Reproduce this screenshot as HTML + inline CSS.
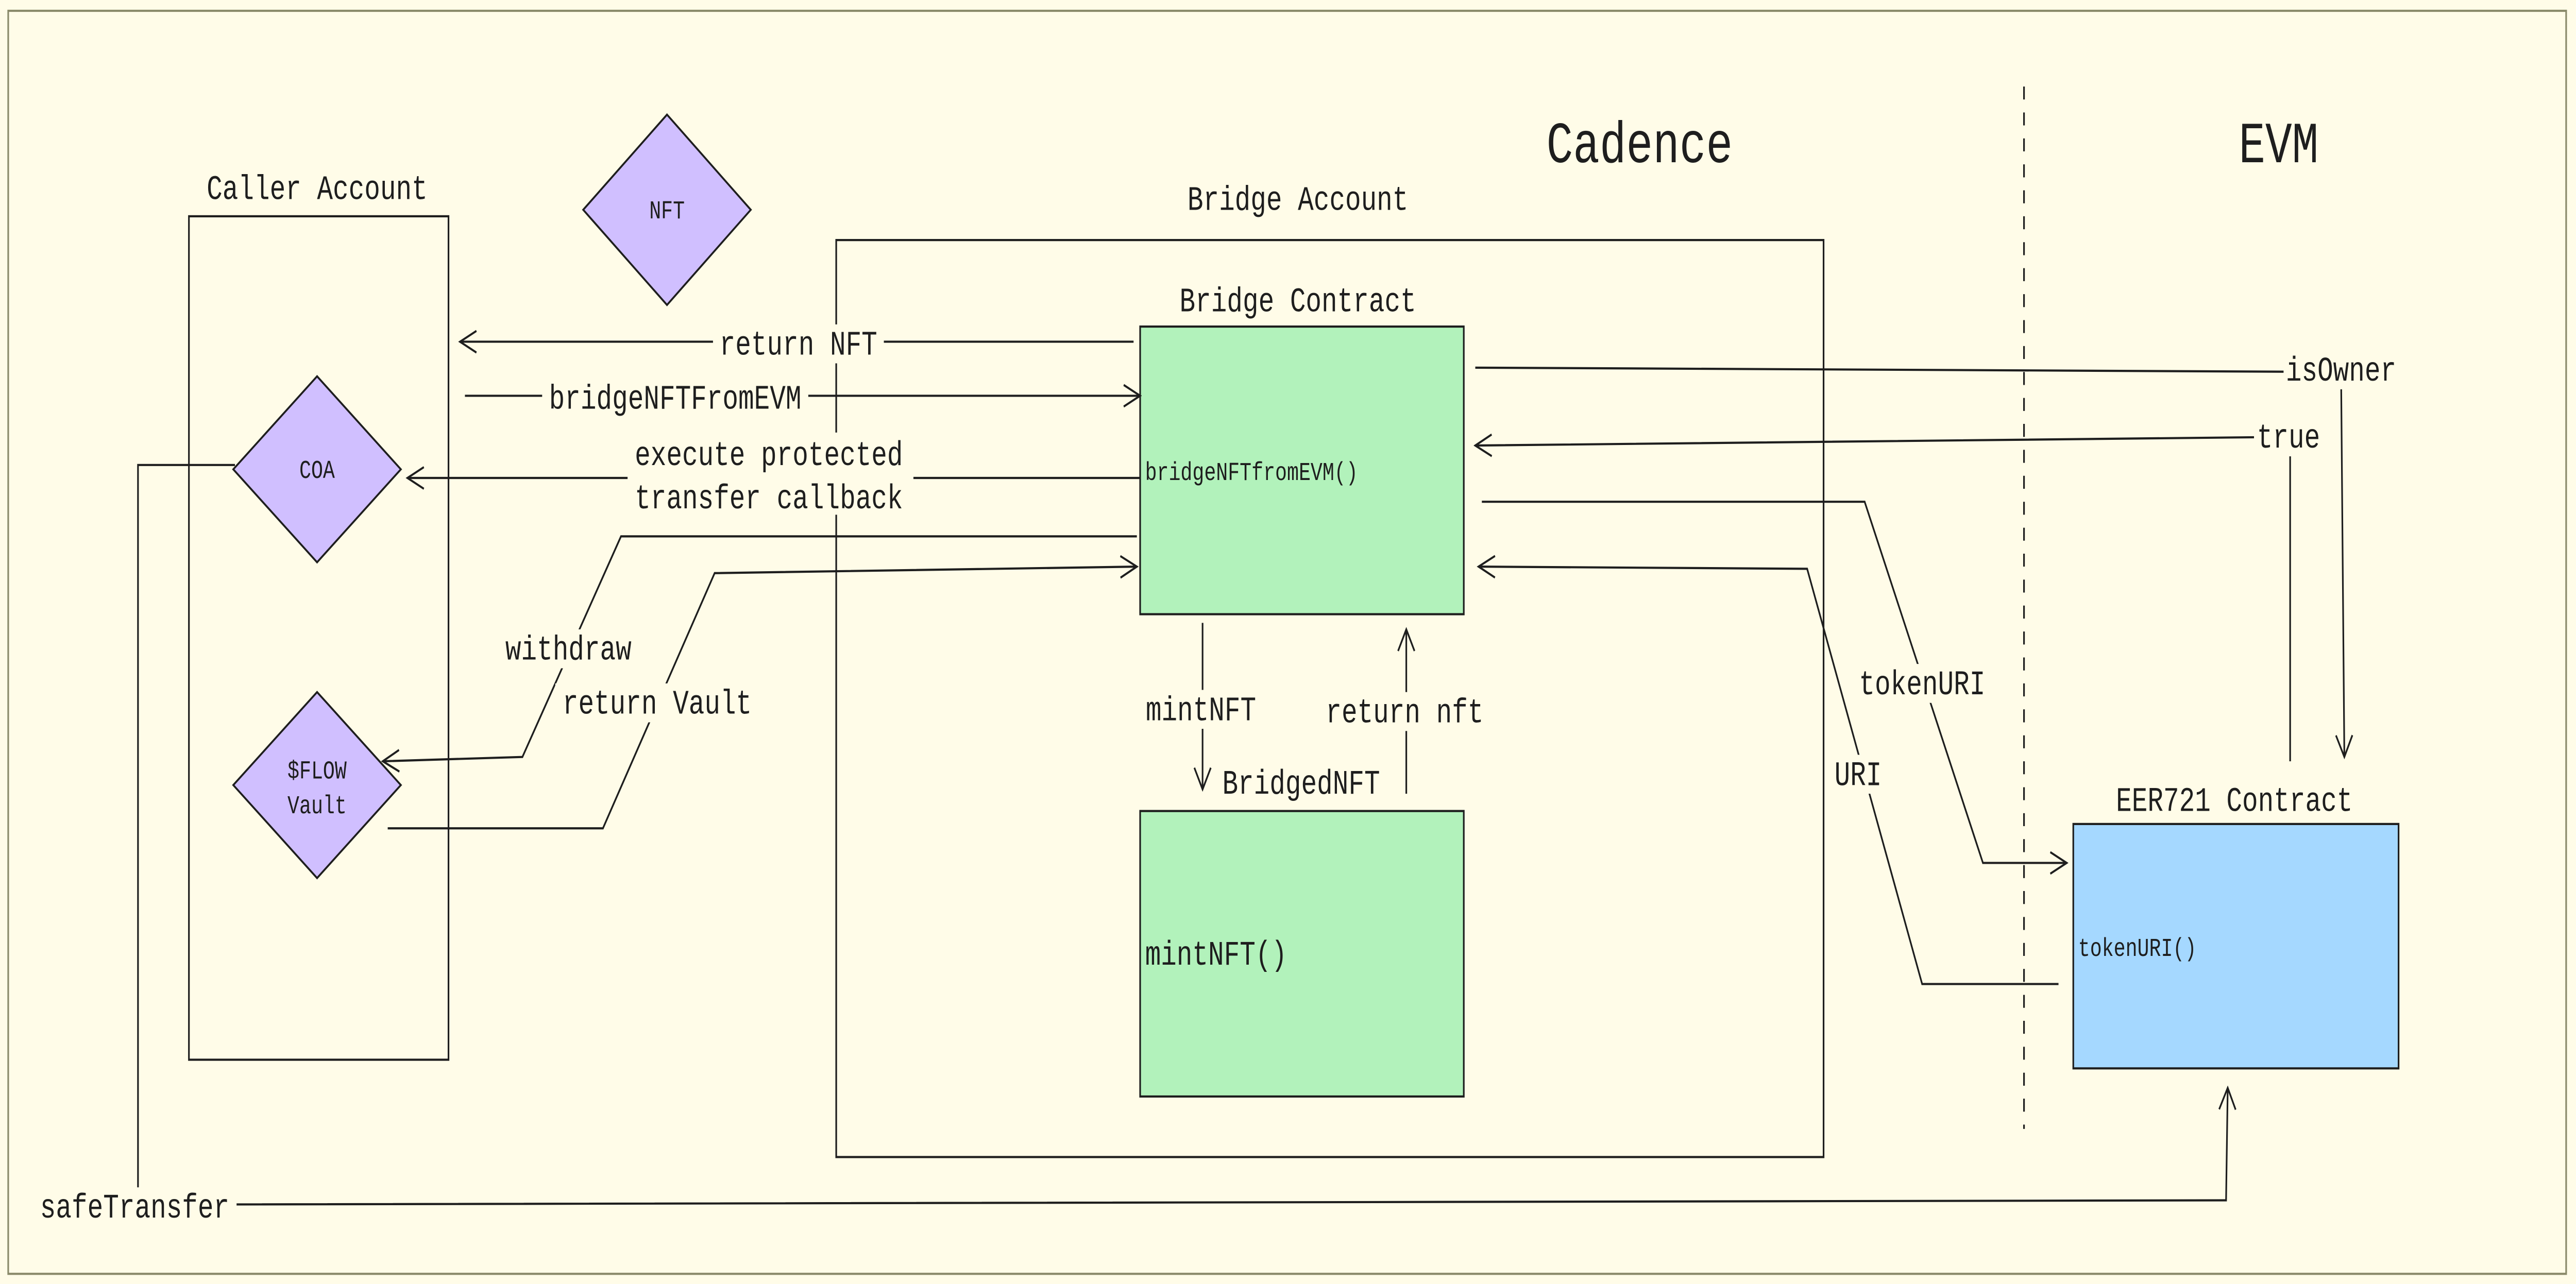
<!DOCTYPE html>
<html><head><meta charset="utf-8"><style>
html,body{margin:0;padding:0;background:#fffce8;overflow:hidden;width:100%;height:100%}
svg{display:block;width:100vw;height:100vh}
text{font-family:"Liberation Mono","DejaVu Sans Mono",monospace;fill:#1e1e1e}
</style></head><body>
<svg viewBox="0 0 1568 593.7" preserveAspectRatio="none" xmlns="http://www.w3.org/2000/svg">
<defs>
<marker id="a" viewBox="0 0 12 12" refX="11" refY="6" markerWidth="12" markerHeight="12" markerUnits="userSpaceOnUse" orient="auto">
<path d="M1,1 L11,6 L1,11" fill="none" stroke="#1e1e1e" stroke-width="1"/>
</marker>
</defs>
<rect x="0" y="0" width="1568" height="594" fill="#fffce8"/>
<rect x="5" y="5" width="1557" height="584" fill="none" stroke="#8a8a6a" stroke-width="1"/>
<text x="998" y="75" font-size="27" text-anchor="middle">Cadence</text>
<text x="1387" y="75" font-size="27" text-anchor="middle">EVM</text>
<line x1="1232" y1="40" x2="1232" y2="522" stroke="#1e1e1e" stroke-width="1" stroke-dasharray="6,6"/>

<g fill="none" stroke="#1e1e1e" stroke-width="1">
<rect x="115" y="100" width="158" height="390"/>
<rect x="509" y="111" width="601" height="424"/>
</g>
<text x="193" y="92" font-size="16" text-anchor="middle">Caller Account</text>
<text x="790" y="97" font-size="16" text-anchor="middle">Bridge Account</text>
<text x="790" y="144" font-size="16" text-anchor="middle">Bridge Contract</text>
<text x="792" y="367" font-size="16" text-anchor="middle">BridgedNFT</text>
<text x="1360" y="375" font-size="16" text-anchor="middle">EER721 Contract</text>

<rect x="694" y="151" width="197" height="133" fill="#b2f2bb" stroke="#1e1e1e"/>
<rect x="694" y="375" width="197" height="132" fill="#b2f2bb" stroke="#1e1e1e"/>
<rect x="1262" y="381" width="198" height="113" fill="#a5d8ff" stroke="#1e1e1e"/>
<text x="697" y="222" font-size="12">bridgeNFTfromEVM()</text>
<text x="697" y="446" font-size="16">mintNFT()</text>
<text x="1265" y="442" font-size="12">tokenURI()</text>

<polygon points="406,53 457,97 406,141 355,97" fill="#d0bfff" stroke="#1e1e1e"/>
<text x="406" y="101" font-size="12" text-anchor="middle">NFT</text>
<polygon points="193,174 244,217 193,260 142,217" fill="#d0bfff" stroke="#1e1e1e"/>
<text x="193" y="221" font-size="12" text-anchor="middle">COA</text>
<polygon points="193,320 244,363 193,406 142,363" fill="#d0bfff" stroke="#1e1e1e"/>
<text x="193" y="360" font-size="12" text-anchor="middle">$FLOW</text>
<text x="193" y="376" font-size="12" text-anchor="middle">Vault</text>

<g fill="none" stroke="#1e1e1e" stroke-width="1" marker-end="url(#a)">
<line x1="690" y1="158" x2="280" y2="158"/>
<line x1="283" y1="183" x2="694" y2="183"/>
<line x1="694" y1="221" x2="248" y2="221"/>
<polyline points="692,248 378,248 318,350 233,352"/>
<polyline points="236,383 367,383 435,265 692,262"/>
<line x1="732" y1="288" x2="732" y2="365"/>
<line x1="856" y1="367" x2="856" y2="291"/>
<polyline points="898,170 1425,172 1427,350"/>
<polyline points="1394,352 1394,202 898,206"/>
<polyline points="902,232 1135,232 1207,399 1258,399"/>
<polyline points="1253,455 1170,455 1100,263 900,262"/>
<polyline points="143,215 84,215 84,557 1355,555 1356,503"/>
</g>

<g font-size="16">
<rect x="434" y="150" width="104" height="18" fill="#fffce8"/>
<text x="486" y="164" text-anchor="middle">return NFT</text>
<rect x="330" y="175" width="162" height="18" fill="#fffce8"/>
<text x="411" y="189" text-anchor="middle">bridgeNFTFromEVM</text>
<rect x="382" y="200" width="174" height="38" fill="#fffce8"/>
<text x="468" y="215" text-anchor="middle">execute protected</text>
<text x="468" y="235" text-anchor="middle">transfer callback</text>
<rect x="305" y="291" width="82" height="18" fill="#fffce8"/>
<text x="346" y="305" text-anchor="middle">withdraw</text>
<rect x="338" y="316" width="124" height="18" fill="#fffce8"/>
<text x="400" y="330" text-anchor="middle">return Vault</text>
<rect x="695" y="319" width="72" height="18" fill="#fffce8"/>
<text x="731" y="333" text-anchor="middle">mintNFT</text>
<rect x="804" y="320" width="102" height="18" fill="#fffce8"/>
<text x="855" y="334" text-anchor="middle">return nft</text>
<rect x="1390" y="162" width="72" height="18" fill="#fffce8"/>
<text x="1425" y="176" text-anchor="middle">isOwner</text>
<rect x="1372" y="193" width="44" height="18" fill="#fffce8"/>
<text x="1393" y="207" text-anchor="middle">true</text>
<rect x="1130" y="307" width="82" height="18" fill="#fffce8"/>
<text x="1170" y="321" text-anchor="middle">tokenURI</text>
<rect x="1114" y="349" width="34" height="18" fill="#fffce8"/>
<text x="1131" y="363" text-anchor="middle">URI</text>
<rect x="20" y="549" width="124" height="18" fill="#fffce8"/>
<text x="82" y="563" text-anchor="middle">safeTransfer</text>
</g>
</svg>
</body></html>
